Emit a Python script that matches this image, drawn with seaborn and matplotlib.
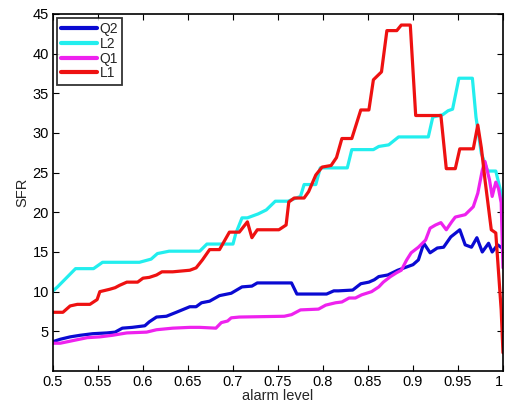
import numpy as np
import pandas as pd
import matplotlib
matplotlib.use("Agg")
import matplotlib.pyplot as plt
import seaborn as sns

# ---- data ----
q2_x = [0.5, 0.508, 0.519, 0.53, 0.544, 0.56, 0.569, 0.577, 0.588, 0.602, 0.607, 0.615, 0.626,
        0.637, 0.652, 0.659, 0.665, 0.674, 0.685, 0.698, 0.71, 0.721, 0.727, 0.765, 0.771, 0.804,
        0.812, 0.817, 0.833, 0.842, 0.851, 0.857, 0.862, 0.872, 0.883, 0.9, 0.906, 0.912, 0.919,
        0.927, 0.934, 0.942, 0.952, 0.958, 0.965, 0.971, 0.977, 0.984, 0.988, 0.994, 0.999, 1.0]
q2_y = [3.7, 4.0, 4.3, 4.5, 4.7, 4.8, 4.9, 5.4, 5.5, 5.7, 6.2, 6.8, 6.9,
        7.4, 8.1, 8.1, 8.6, 8.8, 9.5, 9.8, 10.6, 10.7, 11.1, 11.1, 9.7, 9.7,
        10.1, 10.1, 10.2, 11.0, 11.2, 11.5, 11.9, 12.1, 12.7, 13.4, 14.0, 16.1, 14.9,
        15.5, 15.6, 16.9, 17.8, 15.9, 15.6, 16.8, 15.0, 16.1, 15.0, 15.9, 15.5, 15.3]

l2_x = [0.5, 0.505, 0.525, 0.545, 0.555, 0.596, 0.609, 0.616, 0.629, 0.663, 0.671, 0.7, 0.703,
        0.71, 0.716, 0.728, 0.737, 0.747, 0.761, 0.775, 0.779, 0.792, 0.797, 0.827, 0.832, 0.856,
        0.862, 0.873, 0.884, 0.917, 0.922, 0.933, 0.939, 0.944, 0.951, 0.966, 0.97, 0.976, 0.983,
        0.992, 0.998, 1.0]
l2_y = [10.1, 10.6, 12.9, 12.9, 13.7, 13.7, 14.1, 14.8, 15.1, 15.1, 16.0, 16.0, 17.3,
        19.3, 19.3, 19.8, 20.3, 21.4, 21.4, 22.0, 23.5, 23.5, 25.6, 25.6, 27.9, 27.9,
        28.3, 28.5, 29.5, 29.5, 32.0, 32.3, 32.8, 33.0, 36.9, 36.9, 32.0, 27.4, 25.2,
        25.2, 22.4, 20.5]

q1_x = [0.5, 0.508, 0.525, 0.538, 0.552, 0.566, 0.582, 0.604, 0.615, 0.633, 0.652, 0.663, 0.681,
        0.687, 0.694, 0.698, 0.707, 0.757, 0.765, 0.775, 0.795, 0.803, 0.814, 0.821, 0.829, 0.836,
        0.843, 0.854, 0.862, 0.867, 0.875, 0.882, 0.887, 0.893, 0.898, 0.906, 0.914, 0.919, 0.925,
        0.931, 0.937, 0.943, 0.947, 0.958, 0.967, 0.972, 0.977, 0.98, 0.985, 0.988, 0.992, 0.995,
        0.998, 1.0]
q1_y = [3.5, 3.5, 3.9, 4.2, 4.3, 4.5, 4.8, 4.9, 5.2, 5.4, 5.5, 5.5, 5.4,
        6.1, 6.3, 6.7, 6.8, 6.9, 7.1, 7.7, 7.8, 8.3, 8.6, 8.7, 9.2, 9.2,
        9.6, 10.0, 10.6, 11.2, 11.9, 12.4, 12.7, 14.0, 14.9, 15.6, 16.5, 18.0, 18.4,
        18.7, 17.8, 18.8, 19.4, 19.7, 20.7, 22.4, 25.3, 26.4, 24.1, 22.0, 23.8, 23.0,
        21.2, 13.0]

l1_x = [0.5, 0.511, 0.519, 0.527, 0.541, 0.549, 0.552, 0.563, 0.569, 0.574, 0.582, 0.594, 0.6,
        0.607, 0.615, 0.621, 0.633, 0.652, 0.659, 0.666, 0.674, 0.685, 0.696, 0.707, 0.716, 0.721,
        0.727, 0.751, 0.759, 0.762, 0.768, 0.779, 0.784, 0.792, 0.799, 0.809, 0.815, 0.821, 0.832,
        0.842, 0.851, 0.856, 0.865, 0.871, 0.882, 0.887, 0.897, 0.903, 0.931, 0.937, 0.947, 0.952,
        0.967, 0.972, 0.976, 0.98, 0.987, 0.992, 0.998, 1.0]
l1_y = [7.4, 7.4, 8.2, 8.4, 8.4, 9.0, 10.0, 10.3, 10.5, 10.8, 11.2, 11.2, 11.7,
        11.8, 12.1, 12.5, 12.5, 12.7, 13.0, 14.0, 15.3, 15.3, 17.5, 17.5, 18.8, 16.8,
        17.8, 17.8, 18.4, 21.3, 21.8, 21.8, 22.6, 24.7, 25.7, 25.9, 26.9, 29.3, 29.3,
        32.9, 32.9, 36.7, 37.7, 42.9, 42.9, 43.6, 43.6, 32.2, 32.2, 25.5, 25.5, 28.0,
        28.0, 31.0, 28.1, 24.1, 17.8, 17.4, 7.7, 2.3]

series_names = ["Q2", "L2", "Q1", "L1"]
series_colors = ["#0a0ad2", "#22eeee", "#ee22ee", "#ee1111"]

frames = []
for name, xs, ys in [("Q2", q2_x, q2_y), ("L2", l2_x, l2_y), ("Q1", q1_x, q1_y), ("L1", l1_x, l1_y)]:
    frames.append(pd.DataFrame({"alarm": xs, "SFR": ys, "series": name}))
df = pd.concat(frames, ignore_index=True)

x_ticks = [0.5, 0.55, 0.6, 0.65, 0.7, 0.75, 0.8, 0.85, 0.9, 0.95, 1.0]
x_tick_labels = ["0.5", "0.55", "0.6", "0.65", "0.7", "0.75", "0.8", "0.85", "0.9", "0.95", "1"]
y_ticks = [5, 10, 15, 20, 25, 30, 35, 40, 45]

sns.set_style("white")
plt.rcParams["font.family"] = ["Liberation Sans", "DejaVu Sans"]
plt.rcParams["xtick.direction"] = "in"
plt.rcParams["ytick.direction"] = "in"

fig = plt.figure(figsize=(5.05, 4.03), dpi=100)
ax = fig.add_axes([0.105, 0.0794, 0.891, 0.886])

sns.lineplot(data=df, x="alarm", y="SFR", hue="series", hue_order=series_names,
             palette=dict(zip(series_names, series_colors)), estimator=None, sort=False,
             linewidth=2.3, ax=ax)

ax.set_xlim(0.5, 1.0)
ax.set_ylim(0, 45)
ax.set_xticks(x_ticks)
ax.set_xticklabels(x_tick_labels)
ax.set_yticks(y_ticks)
ax.tick_params(axis="both", which="both", labelsize=10.5, length=4, width=0.8,
               top=True, right=True, bottom=True, left=True, pad=3, colors="black")
ax.get_xticklabels()[-1].set_horizontalalignment("right")
for s in ax.spines.values():
    s.set_visible(True)
    s.set_color("black")
    s.set_linewidth(1.2)

ax.set_xlabel("alarm level", fontsize=10.5, labelpad=0)
ax.set_ylabel("SFR", fontsize=10.5, labelpad=2)

leg = ax.legend(loc="upper left", fontsize=10, handlelength=2.6, handletextpad=0.15,
                borderpad=0.3, labelspacing=0.05, borderaxespad=0.3, frameon=True,
                fancybox=False)
leg.get_frame().set_edgecolor("black")
leg.get_frame().set_linewidth(1.3)
for line in leg.get_lines():
    line.set_linewidth(3)

fig.savefig("out.png", dpi=100)
